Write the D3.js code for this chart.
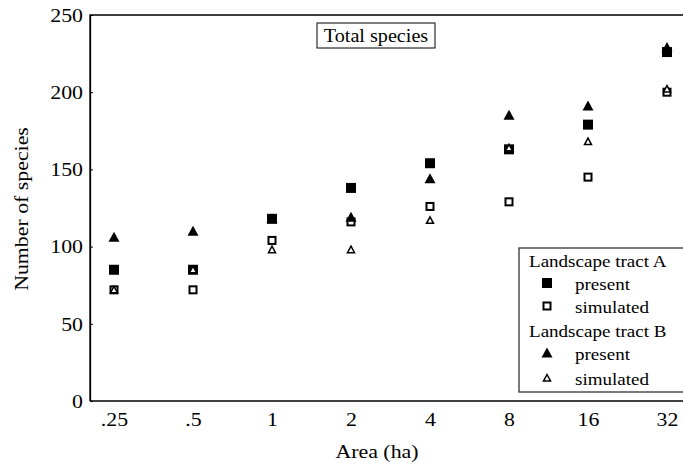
<!DOCTYPE html>
<html>
<head>
<meta charset="utf-8">
<script src="https://cdn.jsdelivr.net/npm/d3@7"></script>
<style>
  body { margin: 0; background: #fff; }
</style>
</head>
<body>
<div id="chart"></div>
<script>
const areas = [".25", ".5", "1", "2", "4", "8", "16", "32"];
const tractAPresent = [85, 85, 118, 138, 154, 163, 179, 226];
const tractASimulated = [72, 72, 104, 116, 126, 129, 145, 200];
const tractBPresent = [106, 110, 118, 119, 144, 185, 191, 229];
const tractBSimulated = [72, 85, 98, 98, 117, 164, 168, 202];
const yTicks = [0, 50, 100, 150, 200, 250];

const W = 683, H = 466;
const MARGIN = { LEFT: 90, TOP: 15, RIGHT: -9, BOTTOM: 65 };
const WIDTH = W - MARGIN.LEFT - MARGIN.RIGHT;
const HEIGHT = H - MARGIN.TOP - MARGIN.BOTTOM;
const FONT = '"Liberation Serif"';
const STRETCH = 1.12; // the scanned figure is a bit wider than tall

const svg = d3.select("#chart").append("svg")
  .attr("width", W)
  .attr("height", H);

const g = svg.append("g")
  .attr("transform", `translate(${MARGIN.LEFT}, ${MARGIN.TOP})`);

const x = d3.scalePoint()
  .domain(areas)
  .range([24, 24 + 79 * 7]);

const y = d3.scaleLinear()
  .domain([0, 250])
  .range([HEIGHT, 0]);

// frame (right side runs off the page)
g.append("path")
  .attr("d", `M0,${HEIGHT}V0H${WIDTH}`)
  .attr("fill", "none")
  .attr("stroke", "#000")
  .attr("stroke-width", 1.3);

const yAxis = g.append("g")
  .call(d3.axisLeft(y).tickValues(yTicks).tickSizeInner(-3).tickSizeOuter(0).tickPadding(7));
const xAxis = g.append("g")
  .attr("transform", `translate(0, ${HEIGHT})`)
  .call(d3.axisBottom(x).tickSize(0).tickPadding(11));

[xAxis, yAxis].forEach(ax => {
  ax.select(".domain").attr("stroke", "#000").attr("stroke-width", 1.3);
  ax.selectAll("text")
    .style("font-size", "19.5px")
    .attr("fill", "#000");
});
xAxis.select(".domain").attr("d", `M0,0H${WIDTH}`);

// axis labels
g.append("text")
  .attr("x", 287)
  .attr("y", HEIGHT + 57)
  .style("font-size", "19.5px")
  .attr("text-anchor", "middle")
  .text("Area (ha)");

g.append("text")
  .attr("transform", "rotate(-90)")
  .attr("x", -194)
  .attr("y", -62)
  .style("font-size", "19.5px")
  .attr("text-anchor", "middle")
  .text("Number of species");

// marker shapes
function drawMarker(sel, type) {
  if (type === "fsq") {
    sel.append("rect").attr("x", -5).attr("y", -5).attr("width", 10).attr("height", 10)
      .attr("fill", "#000");
  } else if (type === "osq") {
    sel.append("rect").attr("x", -3.5).attr("y", -3.5).attr("width", 7).attr("height", 7)
      .attr("fill", "#fff").attr("stroke", "#000").attr("stroke-width", 2);
  } else if (type === "ftri") {
    sel.append("path").attr("d", "M0,-5.5L5.5,4.5L-5.5,4.5Z").attr("fill", "#000");
  } else {
    sel.append("path").attr("d", "M0,-3.5L3.5,3L-3.5,3Z")
      .attr("fill", "#fff").attr("stroke", "#000").attr("stroke-width", 1.5);
  }
}

const series = [
  { values: tractAPresent, type: "fsq" },
  { values: tractASimulated, type: "osq" },
  { values: tractBPresent, type: "ftri" },
  { values: tractBSimulated, type: "otri" }
];

series.forEach(s => {
  g.append("g").selectAll("g")
    .data(areas.map((a, i) => ({ area: a, value: s.values[i] })))
    .enter().append("g")
    .attr("transform", d => `translate(${x(d.area)}, ${y(d.value)})`)
    .each(function () { drawMarker(d3.select(this), s.type); });
});

// title box
svg.append("rect")
  .attr("x", 317).attr("y", 23).attr("width", 118).attr("height", 25)
  .attr("fill", "#fff").attr("stroke", "#000").attr("stroke-width", 1);
svg.append("text")
  .attr("x", 376).attr("y", 42)
  .style("font-size", "18px")
  .attr("text-anchor", "middle")
  .text("Total species");

// legend
const legend = svg.append("g");
legend.append("rect")
  .attr("x", 519).attr("y", 248).attr("width", 180).attr("height", 144)
  .attr("fill", "#fff").attr("stroke", "#333").attr("stroke-width", 1.3);

const legendRows = [
  { label: "Landscape tract A", type: null },
  { label: "present", type: "fsq" },
  { label: "simulated", type: "osq" },
  { label: "Landscape tract B", type: null },
  { label: "present", type: "ftri" },
  { label: "simulated", type: "otri" }
];
const rowY = [261, 284, 307, 331, 354, 379];

legendRows.forEach((r, i) => {
  if (r.type) {
    const m = legend.append("g").attr("transform", `translate(547, ${rowY[i] - 1})`);
    drawMarker(m, r.type);
  }
  legend.append("text")
    .attr("x", r.type ? 575 : 529)
    .attr("y", rowY[i])
    .attr("dy", "0.35em")
    .style("font-size", "17px")
    .text(r.label);
});

// serif everywhere, then widen each label a little like the scan
svg.selectAll("text")
  .style("font-family", FONT, "important")
  .each(function () {
    const len = this.getComputedTextLength();
    d3.select(this)
      .attr("textLength", (len * STRETCH).toFixed(1))
      .attr("lengthAdjust", "spacingAndGlyphs");
  });
</script>
</body>
</html>
